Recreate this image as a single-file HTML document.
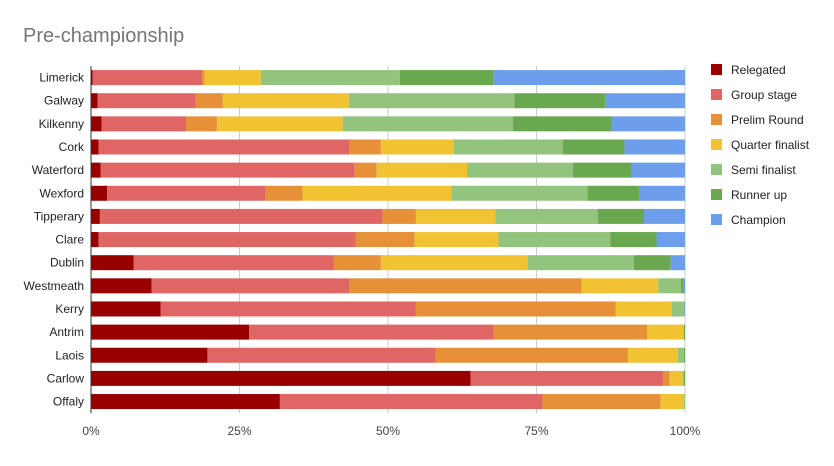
<!DOCTYPE html>
<html><head><meta charset="utf-8"><style>
body{margin:0;background:#fff;font-family:"Liberation Sans",Arial,sans-serif;}
svg text{font-family:"Liberation Sans",Arial,sans-serif;}
</style></head><body>
<svg id="chart" width="834" height="461" xmlns="http://www.w3.org/2000/svg">
<rect width="834" height="461" fill="#fff"/>
<text x="23" y="42" font-size="20" fill="#757575">Pre-championship</text>
<g id="grid"></g><g id="bars"></g><g id="labels"></g><g id="legend"></g>
</svg>
<script>
const categories=["Limerick","Galway","Kilkenny","Cork","Waterford","Wexford","Tipperary","Clare","Dublin","Westmeath","Kerry","Antrim","Laois","Carlow","Offaly"];
const seriesNames=["Relegated","Group stage","Prelim Round","Quarter finalist","Semi finalist","Runner up","Champion"];
const relegated=[0.3,1.1,1.8,1.3,1.6,2.7,1.5,1.3,7.2,10.2,11.7,26.6,19.6,63.9,31.8];
const groupStage=[18.4,16.5,14.2,42.2,42.8,26.7,47.6,43.3,33.7,33.3,43.0,41.2,38.4,32.4,44.2];
const prelimRound=[0.4,4.6,5.2,5.3,3.7,6.2,5.6,9.9,7.9,39.1,33.6,25.8,32.4,1.1,19.9];
const quarterFinalist=[9.5,21.2,21.2,12.3,15.2,25.1,13.4,14.1,24.7,12.9,9.5,6.2,8.4,2.2,3.9];
const semiFinalist=[23.4,27.9,28.6,18.3,17.8,22.9,17.2,18.8,17.9,3.8,2.0,0,1.0,0.2,0.2];
const runnerUp=[15.8,15.3,16.7,10.4,9.9,8.8,7.8,7.8,6.2,0.5,0.1,0.2,0.2,0.2,0];
const champion=[32.2,13.4,12.3,10.2,9.0,7.6,6.9,4.8,2.4,0.2,0.1,0,0,0,0];
const tickLabels=["0%","25%","50%","75%","100%"];
const tickValues=[0,25,50,75,100];
const series=[relegated,groupStage,prelimRound,quarterFinalist,semiFinalist,runnerUp,champion];
const colors=["#990000","#e06666","#e69138","#f1c232","#93c47d","#6aa84f","#6d9eeb"];
const NS="http://www.w3.org/2000/svg";
const x0=91,x1=685,yTop=66,rowH=23.14,barH=15;
const xs=v=>x0+(x1-x0)*v/100;
const yc=i=>yTop+rowH*(i+0.5);
function mk(tag,attrs,parent){const e=document.createElementNS(NS,tag);for(const k in attrs)e.setAttribute(k,attrs[k]);parent.appendChild(e);return e;}
const grid=document.getElementById('grid'),bars=document.getElementById('bars'),labels=document.getElementById('labels'),legend=document.getElementById('legend');
tickValues.forEach((t,i)=>{
  const l=mk('line',{x1:xs(t),x2:xs(t),y1:yTop,y2:yTop+rowH*categories.length,stroke:i==0?"#333":"#ccc","stroke-width":1},grid);
  
  
  const tx=mk('text',{x:xs(t),y:435,"text-anchor":"middle","font-size":12,fill:"#444"},labels);
  tx.textContent=tickLabels[i];
  
  
});
categories.forEach((c,i)=>{
  const tx=mk('text',{x:84,y:yc(i)+4,"text-anchor":"end","font-size":12,fill:"#222"},labels);
  tx.textContent=c;
  
  
  let cum=0;
  series.forEach((s,j)=>{
    const v=s[i];
    if(v>0){
      const r=mk('rect',{x:xs(cum),y:yc(i)-barH/2,width:xs(cum+v)-xs(cum),height:barH,fill:colors[j]},bars);
      
      
    }
    cum+=v;
  });
});
seriesNames.forEach((n,j)=>{
  const g=mk('g',{},legend);
  
  
  const y=70+25*j;
  mk('rect',{x:711,y:y-6,width:11,height:11,fill:colors[j]},g);
  const t=mk('text',{x:731,y:y+4,"font-size":12,fill:"#222"},g);
  t.textContent=n;
});
</script>
</body></html>
